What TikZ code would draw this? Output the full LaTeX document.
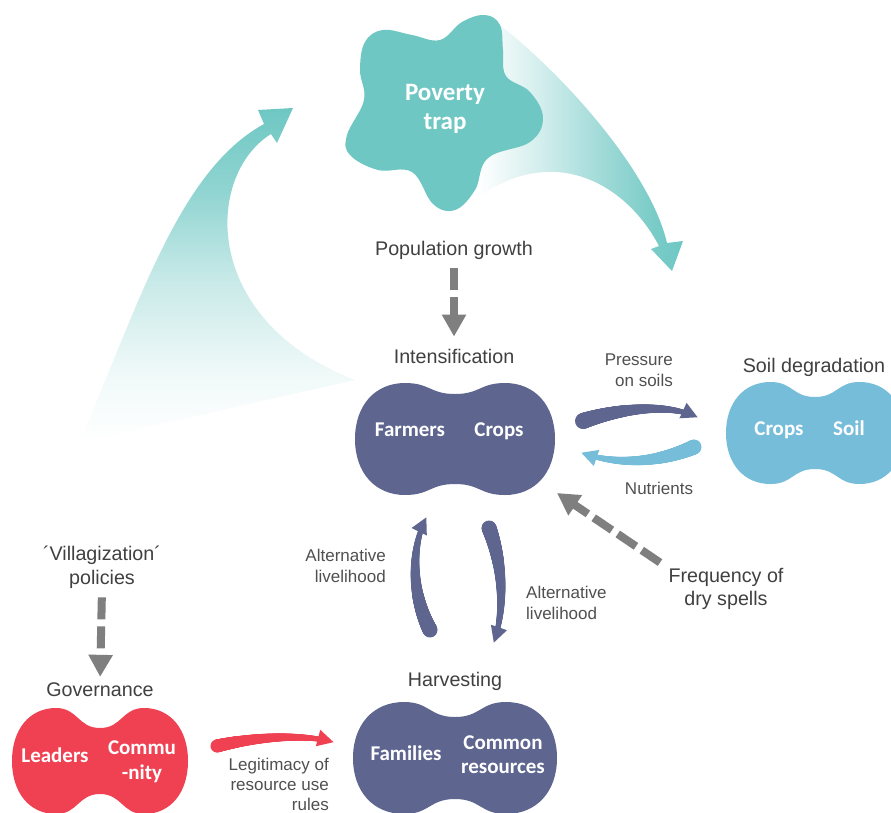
\documentclass[tikz,border=0pt]{standalone}
\usepackage{fontspec}
\setmainfont{Liberation Sans}
\newfontfamily\carl{Carlito}
\usetikzlibrary{arrows.meta,decorations.markings}
\definecolor{teal1}{HTML}{6EC7C3}
\definecolor{slate}{HTML}{5E6690}
\definecolor{lblue}{HTML}{76BDDA}
\definecolor{red1}{HTML}{F04152}
\definecolor{agray}{HTML}{7F7F7F}
\definecolor{tgray}{HTML}{404040}
\definecolor{sgray}{HTML}{505050}
\pgfdeclarehorizontalshading{wedgeR}{100bp}{color(0bp)=(white); color(25bp)=(white); color(40bp)=(teal1!30); color(55bp)=(teal1!65); color(68bp)=(teal1!92); color(75bp)=(teal1); color(100bp)=(teal1)}
\pgfdeclareverticalshading{wedgeL}{100bp}{color(0bp)=(white); color(25bp)=(white); color(35bp)=(teal1!10); color(50bp)=(teal1!40); color(62bp)=(teal1!75); color(75bp)=(teal1); color(100bp)=(teal1)}
\tikzset{
  pics/peanut/.style args={#1/#2/#3}{code={
    \path[pic actions] (0,{-#2+#3}) .. controls ({0.25*#1},{-#2+#3}) and ({0.25*#1},-#2) .. ({0.5*#1},-#2)
      .. controls ({0.8*#1},-#2) and (#1,{-0.6*#2}) .. (#1,0)
      .. controls (#1,{0.6*#2}) and ({0.8*#1},#2) .. ({0.5*#1},#2)
      .. controls ({0.25*#1},#2) and ({0.25*#1},{#2-#3}) .. (0,{#2-#3})
      .. controls ({-0.25*#1},{#2-#3}) and ({-0.25*#1},#2) .. ({-0.5*#1},#2)
      .. controls ({-0.8*#1},#2) and (-#1,{0.6*#2}) .. (-#1,0)
      .. controls (-#1,{-0.6*#2}) and ({-0.8*#1},-#2) .. ({-0.5*#1},-#2)
      .. controls ({-0.25*#1},-#2) and ({-0.25*#1},{-#2+#3}) .. cycle;
  }},
  taper/.style n args={4}{postaction={decorate,decoration={markings,
      mark=between positions 0 and #4 step 0.004 with {
        \pgfmathsetmacro\tr{#1-(#1-#2)*\pgfkeysvalueof{/pgf/decoration/mark info/sequence number}*0.004/#4}
        \fill[#3] (0,0) circle[radius=\tr pt];},
      mark=at position 0.999 with {\fill[#3] (-15pt,-8.5pt) -- (1pt,0pt) -- (-15pt,8.5pt) -- cycle;}}}},
  lab/.style={text=tgray, font=\fontsize{19.7}{24}\selectfont, inner sep=0pt, align=center},
  slab/.style={text=sgray, font=\fontsize{17}{21}\selectfont, inner sep=0pt},
  intext/.style={text=white, font=\carl\bfseries\fontsize{21}{24}\selectfont, inner sep=0pt, align=center},
  gdash/.style={draw=agray, line width=8pt, dash pattern=on 22pt off 7pt, -{Triangle[width=23pt,length=22pt]}},
  pbox/.style={inner sep=0pt, draw=none}
}
\begin{document}
\begin{tikzpicture}[x=1pt,y=-1pt]
\useasboundingbox (0,0) rectangle (891,812);
\fill[white] (0,0) rectangle (891,812);
\clip (0,0) rectangle (891,812);

% big faded arrows
\shade[shading=wedgeR]
  (492,19) .. controls (560,70) and (650,170) .. (667,243) -- (683,241) -- (672,271) -- (651,249) -- (659,246)
  .. controls (630,190) and (560,140) .. (478,197) -- cycle;
\shade[shading=wedgeL]
  (80,442) .. controls (140,300) and (180,170) .. (264,124) -- (258,110) -- (293,108) -- (277,143) -- (271,134)
  .. controls (205,175) and (200,320) .. (355,380) -- cycle;

% star
\fill[teal1] plot[smooth cycle, tension=0.65] coordinates {(360,70) (365,42) (383,30) (412,35) (440,40) (462,22) (485,15) (500,25) (503,50) (506,76) (530,92) (543,118) (530,142) (488,158) (475,190) (455,210) (433,204) (412,172) (378,170) (350,155) (347,135) (364,100)};
\node[intext, font=\carl\bfseries\fontsize{25}{29}\selectfont] (pov) at (445,109) {Poverty\\trap};

% peanuts
\pic[fill=slate] at (455,439) {peanut=100/56/11};
\pic[fill=lblue] at (815,433) {peanut=89/51/15};
\pic[fill=slate] at (455,758) {peanut=102/56/15};
\pic[fill=red1] at (100,761) {peanut=88/53/20};
\node[pbox, minimum width=200pt, minimum height=112pt] (intens) at (455,439) {};
\node[pbox, minimum width=178pt, minimum height=102pt] (soil) at (815,433) {};
\node[pbox, minimum width=204pt, minimum height=112pt] (harv) at (455,758) {};
\node[pbox, minimum width=176pt, minimum height=106pt] (gov) at (100,761) {};

% inner texts
\node[intext, anchor=base] (farmers) at (410,436) {Farmers};
\node[intext, anchor=base] (crops1) at (499,436) {Crops};
\node[intext, anchor=base] (crops2) at (779,435) {Crops};
\node[intext, anchor=base] (soiltxt) at (849,435) {Soil};
\node[intext, anchor=base] (families) at (406,760) {Families};
\node[intext] (common) at (503,755) {Common\\resources};
\node[intext, anchor=base] (leaders) at (55,762.75) {Leaders};
\node[intext, font=\carl\bfseries\fontsize{21}{25}\selectfont] (commu) at (142,761.5) {Commu\\-nity};

% labels
\node[lab] (popg) at (454,250) {Population growth};
\node[lab] (intlabel) at (454,356) {Intensification};
\node[lab] (soillabel) at (814,367) {Soil degradation};
\node[lab] (harvlabel) at (455,681) {Harvesting};
\node[lab] (govlabel) at (100,690) {Governance};
\node[lab, font=\fontsize{19.7}{24}\selectfont] (vill) at (102,567.5) {´Villagization´\\policies};
\node[lab, font=\fontsize{19.7}{23}\selectfont] (freq) at (726,589) {Frequency of\\dry spells};
\node[slab, align=right, anchor=east] (press) at (673,370.4) {Pressure\\on soils};
\node[slab] (nutr) at (659,488) {Nutrients};
\node[slab, align=right, anchor=east] (altL) at (386,566.4) {Alternative\\livelihood};
\node[slab, align=left, anchor=west] (altR) at (526,603.4) {Alternative\\livelihood};
\node[slab, align=right, anchor=east, font=\fontsize{17}{20}\selectfont] (legit) at (329,784) {Legitimacy of\\resource use\\rules};

% dashed gray arrows
\coordinate (dryend) at (557,493);
\draw[gdash, shorten <=9pt, shorten >=12pt] (popg.south) -- (intlabel.north);
\draw[gdash, shorten <=8.4pt, shorten >=6pt] (vill.south) -- (govlabel.north);
\draw[gdash, shorten <=10pt] (freq.north west) -- (dryend);

% tapered arrows
\coordinate (pr0) at (583,421); \coordinate (pr1) at (697,417);
\coordinate (nu0) at (694,447); \coordinate (nu1) at (582,453);
\coordinate (re0) at (217,746); \coordinate (re1) at (333,742);
\coordinate (al0) at (430,630); \coordinate (al1) at (426,518);
\coordinate (ar0) at (489,528); \coordinate (ar1) at (494,642);
\path[taper={8}{2.5}{slate}{0.88}] (pr0) .. controls (615,410) and (665,402) .. (pr1);
\path[taper={7.5}{2.5}{lblue}{0.88}] (nu0) .. controls (660,462) and (620,466) .. (nu1);
\path[taper={6.5}{2.5}{red1}{0.88}] (re0) .. controls (250,738) and (300,733) .. (re1);
\path[taper={7.5}{2.5}{slate}{0.88}] (al0) .. controls (412,595) and (410,550) .. (al1);
\path[taper={7.5}{2.5}{slate}{0.88}] (ar0) .. controls (503,565) and (505,610) .. (ar1);
\end{tikzpicture}
\end{document}
